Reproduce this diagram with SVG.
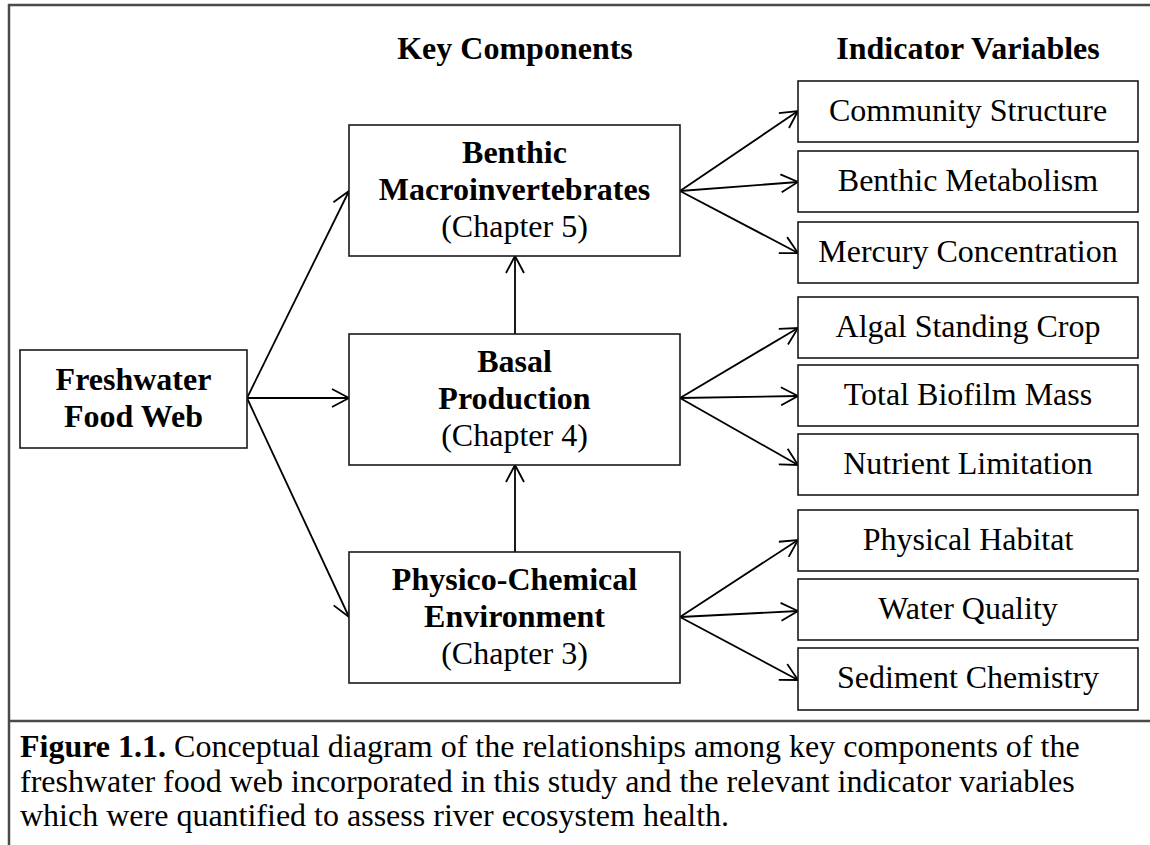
<svg xmlns="http://www.w3.org/2000/svg" width="1150" height="845" viewBox="0 0 1150 845">
<defs>
<style>
.bg{fill:#fff}
.frame{stroke:#4a4a4a;stroke-width:2.5;fill:none}
.box{fill:#fff;stroke:#1a1a1a;stroke-width:1.6}
.t{font-family:"Liberation Serif","Times New Roman",serif;font-size:32px;text-anchor:middle;fill:#000}
.b{font-weight:bold}
.cap{font-family:"Liberation Serif","Times New Roman",serif;font-size:32px;fill:#000}
.conn line{stroke:#000;stroke-width:1.8;marker-end:url(#ah)}
</style>
<marker id="ah" markerUnits="userSpaceOnUse" markerWidth="20" markerHeight="20" viewBox="0 0 20 20" refX="18" refY="10" orient="auto">
<path d="M1,1 L18,10 L1,19" fill="none" stroke="#000" stroke-width="1.8"/>
</marker>
</defs>
<rect class="bg" x="0" y="0" width="1150" height="845"/>
<g id="frame">
<line class="frame" x1="8" y1="5" x2="1150" y2="5"/>
<line class="frame" x1="9" y1="4" x2="9" y2="845"/>
<line class="frame" x1="9" y1="721" x2="1150" y2="721"/>
</g>
<g id="headers">
<text class="t b" x="515" y="59">Key Components</text>
<text class="t b" x="968" y="59">Indicator Variables</text>
</g>
<g class="conn" id="connectors">
<line x1="247" y1="398" x2="349" y2="191"/>
<line x1="247" y1="398" x2="349" y2="398"/>
<line x1="247" y1="398" x2="349" y2="617"/>
<line x1="515" y1="552" x2="515" y2="465"/>
<line x1="515" y1="334" x2="515" y2="256"/>
<line x1="680" y1="191" x2="798" y2="111"/>
<line x1="680" y1="191" x2="798" y2="182"/>
<line x1="680" y1="191" x2="798" y2="253"/>
<line x1="680" y1="398" x2="798" y2="328"/>
<line x1="680" y1="398" x2="798" y2="396"/>
<line x1="680" y1="398" x2="798" y2="465"/>
<line x1="680" y1="617" x2="798" y2="540"/>
<line x1="680" y1="617" x2="798" y2="611"/>
<line x1="680" y1="617" x2="798" y2="680"/>
</g>
<g id="freshwater">
<rect class="box" x="20" y="350" width="227" height="98"/>
<text class="t b" x="133.5" y="390">Freshwater</text>
<text class="t b" x="133.5" y="427">Food Web</text>
</g>
<g id="benthic">
<rect class="box" x="349" y="125" width="331" height="131"/>
<text class="t b" x="514.5" y="163">Benthic</text>
<text class="t b" x="514.5" y="200">Macroinvertebrates</text>
<text class="t" x="514.5" y="237">(Chapter 5)</text>
</g>
<g id="basal">
<rect class="box" x="349" y="334" width="331" height="131"/>
<text class="t b" x="514.5" y="372">Basal</text>
<text class="t b" x="514.5" y="409">Production</text>
<text class="t" x="514.5" y="446">(Chapter 4)</text>
</g>
<g id="physico">
<rect class="box" x="349" y="552" width="331" height="131"/>
<text class="t b" x="514.5" y="590">Physico-Chemical</text>
<text class="t b" x="514.5" y="627">Environment</text>
<text class="t" x="514.5" y="664">(Chapter 3)</text>
</g>
<g id="community">
<rect class="box" x="798" y="81" width="340" height="61"/>
<text class="t" x="968" y="121">Community Structure</text>
</g>
<g id="benthic-metabolism">
<rect class="box" x="798" y="151" width="340" height="61"/>
<text class="t" x="968" y="191">Benthic Metabolism</text>
</g>
<g id="mercury">
<rect class="box" x="798" y="222" width="340" height="61"/>
<text class="t" x="968" y="262">Mercury Concentration</text>
</g>
<g id="algal">
<rect class="box" x="798" y="297" width="340" height="61"/>
<text class="t" x="968" y="337">Algal Standing Crop</text>
</g>
<g id="biofilm">
<rect class="box" x="798" y="365" width="340" height="61"/>
<text class="t" x="968" y="405">Total Biofilm Mass</text>
</g>
<g id="nutrient">
<rect class="box" x="798" y="434" width="340" height="61"/>
<text class="t" x="968" y="474">Nutrient Limitation</text>
</g>
<g id="physical">
<rect class="box" x="798" y="510" width="340" height="61"/>
<text class="t" x="968" y="550">Physical Habitat</text>
</g>
<g id="water">
<rect class="box" x="798" y="579" width="340" height="61"/>
<text class="t" x="968" y="619">Water Quality</text>
</g>
<g id="sediment">
<rect class="box" x="798" y="648" width="340" height="62"/>
<text class="t" x="968" y="688">Sediment Chemistry</text>
</g>
<g id="caption">
<text class="cap" x="20" y="757"><tspan font-weight="bold">Figure 1.1.</tspan> Conceptual diagram of the relationships among key components of the</text>
<text class="cap" x="20" y="791.5">freshwater food web incorporated in this study and the relevant indicator variables</text>
<text class="cap" x="20" y="826">which were quantified to assess river ecosystem health.</text>
</g>
</svg>
